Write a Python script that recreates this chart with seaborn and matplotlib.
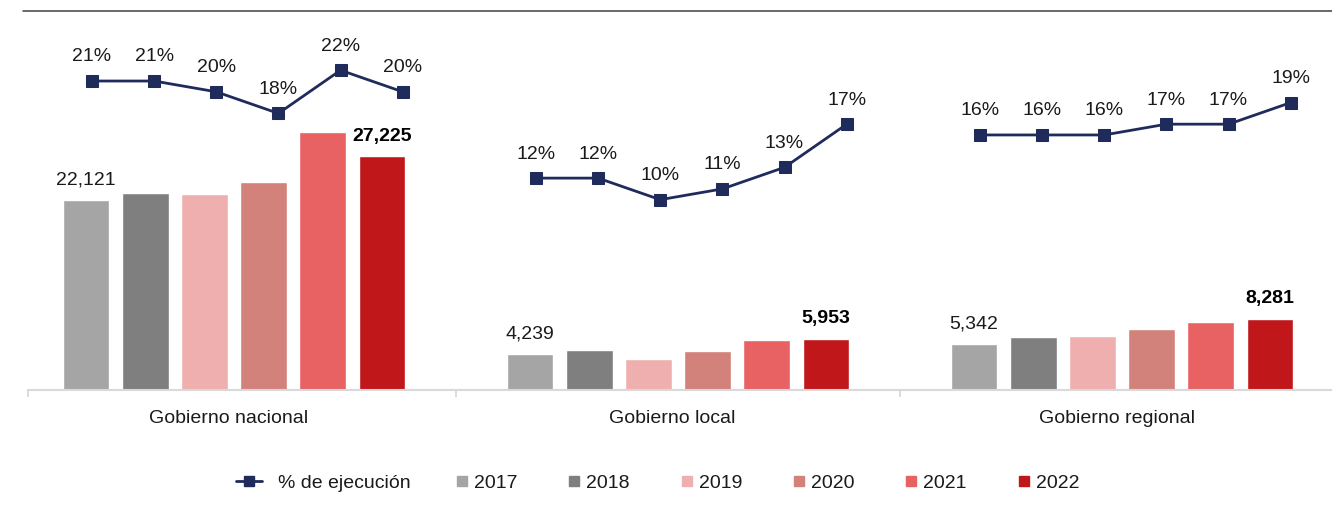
import matplotlib
matplotlib.use("Agg")
import matplotlib.pyplot as plt
import seaborn as sns
import pandas as pd
from matplotlib.lines import Line2D

# ---------------- data ----------------
groups = ["Gobierno nacional", "Gobierno local", "Gobierno regional"]
years = ["2017", "2018", "2019", "2020", "2021", "2022"]
v2017 = [22121, 4239, 5342]
v2018 = [22920, 4650, 6150]
v2019 = [22770, 3650, 6260]
v2020 = [24200, 4550, 7120]
v2021 = [29980, 5830, 7860]
v2022 = [27225, 5953, 8281]
pct_nacional = [21, 21, 20, 18, 22, 20]
pct_local = [12, 12, 10, 11, 13, 17]
pct_regional = [16, 16, 16, 17, 17, 19]
line_label = "% de ejecución"

# ---------------- style ----------------
colors = ["#A5A5A5", "#7F7F7F", "#EFAFAF", "#D3817B", "#E86264", "#C0181A"]
navy = "#1F2B5B"
text_color = "#1A1A1A"

sns.set_style("white")
plt.rcParams["font.family"] = ["Liberation Sans", "DejaVu Sans"]
plt.rcParams["text.color"] = text_color

W, H = 1332, 519
fig = plt.figure(figsize=(W / 100, H / 100), dpi=100)
ax = fig.add_axes([28 / W, 1 - 390 / H, (W - 28) / W, 379 / H])

rows = []
for yr, vals in zip(years, [v2017, v2018, v2019, v2020, v2021, v2022]):
    for g, v in zip(groups, vals):
        rows.append({"group": g, "year": yr, "value": v})
bar_df = pd.DataFrame(rows)

sns.barplot(data=bar_df, x="group", y="value", hue="year", order=groups,
            hue_order=years, palette=colors, saturation=1, width=0.8,
            gap=0.21, errorbar=None, legend=False, ax=ax)

xlim = (-(234 - 28) / 444, 2 + (1332 - 1122) / 444)
ax.set_xlim(*xlim)
ax.set_ylim(0, 379 * 116.35)
ax.set_xlabel("")
ax.set_ylabel("")
ax.set_yticks([])
for s in ["left", "right", "top"]:
    ax.spines[s].set_visible(False)
ax.spines["bottom"].set_color("#D9D9D9")
ax.spines["bottom"].set_linewidth(1.5)

ax.set_xticks([xlim[0] + 0.001, 0.5, 1.5])
ax.set_xticklabels([])
ax.tick_params(axis="x", which="major", length=5, width=1.3, color="#D9D9D9",
               direction="out", bottom=True)
ax.set_xticks([-0.012, 0.988, 1.988], minor=True)
ax.set_xticklabels(groups, minor=True, fontsize=14, color=text_color)
ax.tick_params(axis="x", which="minor", length=0, pad=14.5)

# bar value labels (first and last year)
for k, cont in enumerate(ax.containers):
    if k not in (0, len(years) - 1):
        continue
    for bar in cont:
        x = bar.get_x() + bar.get_width() / 2
        h = bar.get_height()
        ax.annotate(f"{h:,.0f}", (x, h), xytext=(0, 14.4),
                    textcoords="offset points", ha="center", va="center",
                    fontsize=14, color="black" if k else text_color,
                    fontweight="bold" if k else "normal")

# ---------------- line (% de ejecución) ----------------
ax2 = ax.twinx()
lrows = []
for gi, pcts in enumerate([pct_nacional, pct_local, pct_regional]):
    for i, p in enumerate(pcts):
        lrows.append({"group": gi, "pos": gi + (i - 2.5) * 0.14 + 0.03, "pct": p})
line_df = pd.DataFrame(lrows)
sns.lineplot(data=line_df, x="pos", y="pct", units="group", estimator=None,
             color=navy, marker="s", markersize=8.5, markeredgecolor=navy,
             linewidth=2, legend=False, ax=ax2)
ax2.set_ylim(-7.64, 27.49)
ax2.set_xlim(*xlim)
ax2.set_xlabel("")
ax2.set_ylabel("")
ax2.set_yticks([])
for s in ax2.spines.values():
    s.set_visible(False)
for _, r in line_df.iterrows():
    ax2.annotate(f"{int(r['pct'])}%", (r["pos"], r["pct"]), xytext=(0, 17.3),
                 textcoords="offset points", ha="center", va="center",
                 fontsize=14, color=text_color)

# top rule
fig.add_artist(Line2D([22.7 / W, 1.0], [1 - 11 / H, 1 - 11 / H],
                      color="#404040", lw=1.1))

# legends
leg_y = 1 - 483 / H
line_handle = [Line2D([], [], color=navy, lw=2, marker="s", ms=7.5)]
leg1 = fig.legend(line_handle, [line_label], loc="center left",
                  bbox_to_anchor=(236 / W, leg_y), frameon=False, fontsize=14,
                  handlelength=1.35, handletextpad=0.8, borderpad=0,
                  borderaxespad=0)
year_handles = [Line2D([], [], ls="none", marker="s", ms=7.2, color=c) for c in colors]
fig.legend(year_handles, years, loc="center left",
           bbox_to_anchor=(452.3 / W, leg_y), ncol=6, frameon=False,
           fontsize=14, handlelength=1.0, handletextpad=0.12,
           columnspacing=2.42, borderpad=0, borderaxespad=0)

fig.savefig("out.png", dpi=100)
